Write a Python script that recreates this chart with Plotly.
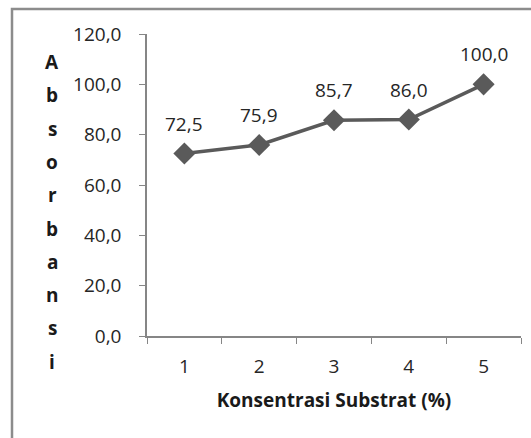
import plotly.graph_objects as go

categories = ["1", "2", "3", "4", "5"]
absorbansi = [72.5, 75.9, 85.7, 86.0, 100.0]
y_ticks = [0, 20, 40, 60, 80, 100, 120]
x_title = "Konsentrasi Substrat (%)"
y_title = "Absorbansi"

W, H = 531, 438
ml, mr, mt, mb = 147, 10, 34, 102
FONT = "Open Sans"
FS = 19

fig = go.Figure()
fig.add_trace(go.Scatter(
    x=categories, y=absorbansi, mode="lines+markers",
    line=dict(color="#5a5a5a", width=3.5),
    marker=dict(symbol="diamond", size=17, color="#5a5a5a"),
    cliponaxis=False, hoverinfo="skip",
))

pw = W - ml - mr
ph = H - mt - mb
annotations = []
# data labels (category axis positions are indices)
for i, v in enumerate(absorbansi):
    annotations.append(dict(
        x=i, y=v, xref="x", yref="y", text=f"{v:.1f}".replace(".", ","),
        showarrow=False, yshift=30, xanchor="center", yanchor="middle",
        font=dict(family=FONT, size=FS, color="#262626"),
    ))
# vertical stacked y-axis title
y_top_px, step = 62, 33.3
for i, ch in enumerate(y_title):
    py = y_top_px + i * step
    annotations.append(dict(
        x=(52 - ml) / pw, xref="paper", y=1 - (py - mt) / ph, yref="paper",
        text="<b>%s</b>" % ch, showarrow=False,
        font=dict(family=FONT, size=FS, color="#1a1a1a"),
        xanchor="center", yanchor="middle",
    ))

fig.update_layout(
    width=W, height=H,
    margin=dict(l=ml, r=mr, t=mt, b=mb),
    paper_bgcolor="white", plot_bgcolor="white",
    separators=",.",
    showlegend=False,
    annotations=annotations,
    xaxis=dict(
        type="category", categoryorder="array", categoryarray=categories,
        range=[-0.5, len(categories) - 0.5],
        tickson="boundaries", ticks="outside", ticklen=6,
        tickcolor="#868686", linecolor="#868686", linewidth=1.5, showline=True,
        showgrid=False, zeroline=False, ticklabelstandoff=12,
        tickfont=dict(family=FONT, size=FS, color="#262626"),
        title=dict(text="<b>%s</b>" % x_title, standoff=16,
                   font=dict(family=FONT, size=FS, color="#1a1a1a")),
    ),
    yaxis=dict(
        range=[0, 120], tickvals=y_ticks, tickformat=".1f",
        ticks="outside", ticklen=6, tickcolor="#868686",
        linecolor="#868686", linewidth=1.5, showline=True,
        showgrid=False, zeroline=False, ticklabelstandoff=14,
        tickfont=dict(family=FONT, size=FS, color="#262626"),
    ),
    shapes=[dict(
        type="rect", xref="paper", yref="paper",
        x0=(12 - ml) / pw, x1=(W + 20 - ml) / pw,
        y0=-(H + 20 - mt - ph) / ph, y1=1 + (mt - 9) / ph,
        line=dict(color="#8c8c8c", width=2.5), layer="below",
    )],
)

fig.write_html("out.html")
